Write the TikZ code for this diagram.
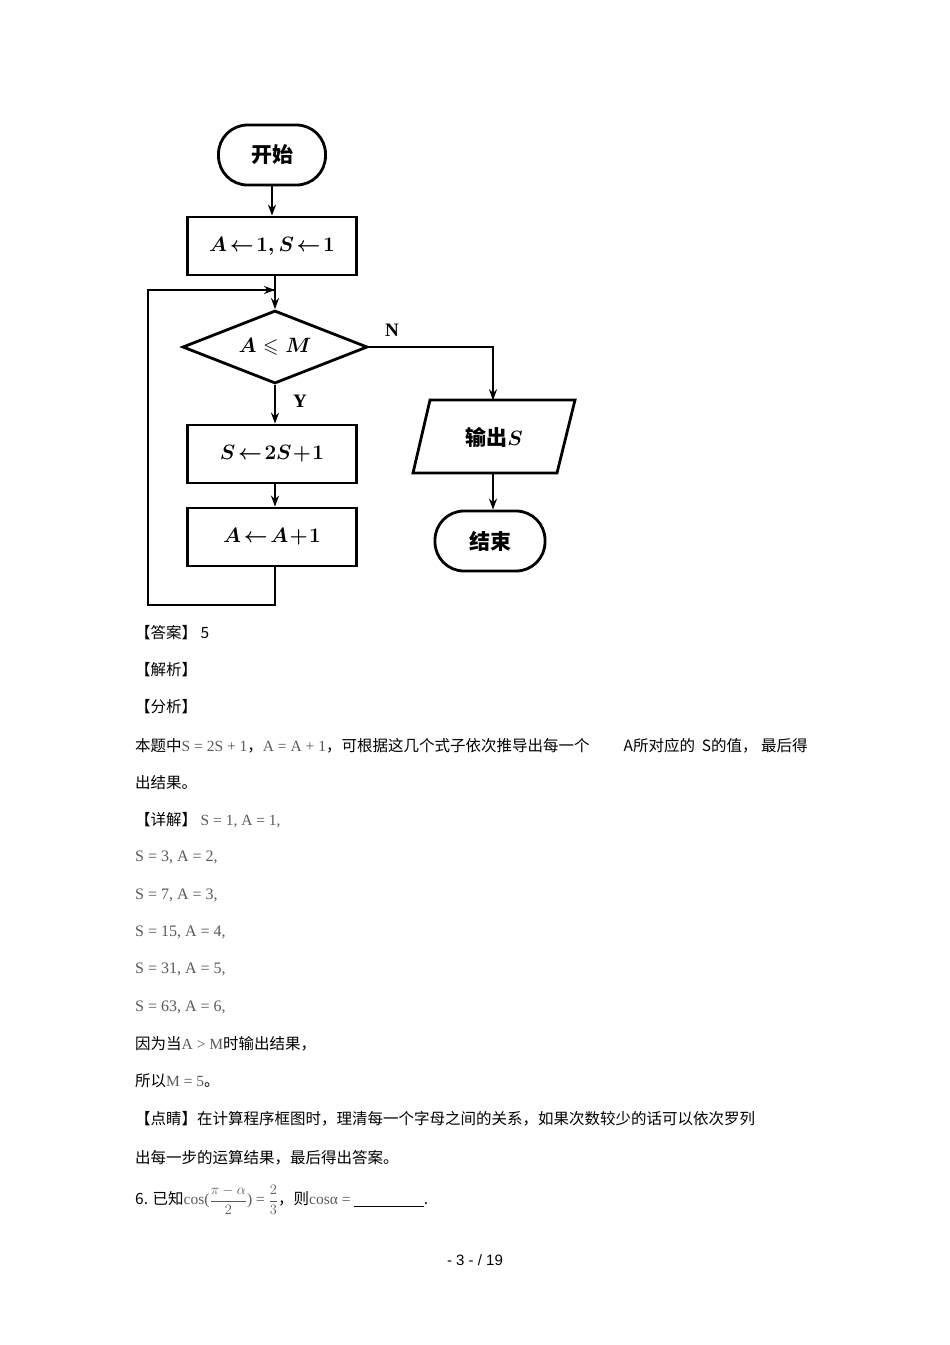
\documentclass[tikz,border=0pt]{standalone}
\usepackage{amsmath,amssymb}
\usepackage{fontspec}
\setmainfont{Liberation Sans}
\newfontfamily\cjk{Noto Sans CJK SC}
\newfontfamily\srf{Liberation Serif}
\usetikzlibrary{arrows.meta,shapes.geometric}
\begin{document}
\begin{tikzpicture}[x=1pt,y=-1pt,
  lw/.style={line width=2.8pt},
  fbox/.style={draw,lw,minimum width=169pt,minimum height=58pt,font=\fontsize{20pt}{22pt}\selectfont\bfseries},
  term/.style={draw,lw,rounded corners=29pt,minimum height=60pt,font=\fontsize{21pt}{22pt}\selectfont\cjk\bfseries},
  arr/.style={lw,-{Stealth[length=11pt,width=8pt]}},
  txt/.style={anchor=west,inner sep=0pt,font=\fontsize{15.5pt}{17pt}\selectfont\cjk},
  gm/.style={text=black!65,font=\fontsize{16pt}{17pt}\selectfont\srf}]
\useasboundingbox (0,0) rectangle (950,1345);
\node[term,minimum width=107pt] (start) at (272,155) {开始};
\node[fbox] (init) at (272,246) {$\boldsymbol{A\!\leftarrow\!1,S\!\leftarrow\!1}$};
\node[draw,lw,diamond,aspect=2.5,minimum width=185pt,minimum height=73pt,inner sep=0pt,font=\fontsize{20pt}{22pt}\selectfont\bfseries] (cond) at (275,347) {$\boldsymbol{A\leqslant M}$};
\node[fbox] (s) at (272,454) {$\boldsymbol{S\!\leftarrow\!2S\!+\!1}$};
\node[fbox] (a) at (272,537) {$\boldsymbol{A\!\leftarrow\!A\!+\!1}$};
\node[minimum width=144pt,minimum height=73pt,inner sep=0pt,font=\fontsize{21pt}{22pt}\selectfont\cjk\bfseries] (out) at (494,437) {输出$\boldsymbol{S}$};
\draw[lw] (430,400) -- (575,400) -- (557,473) -- (413,473) -- cycle;
\node[term,minimum width=110pt] (end) at (490,541) {结束};
\coordinate (j) at (275,290);
\coordinate (b1) at (275,605);
\coordinate (b2) at (148,605);
\coordinate (b3) at (148,290);
\coordinate (r) at (493,347);
\draw[arr] (start.south) -- (start.south|-init.north);
\draw[arr] (init.south-|j) -- (cond.north);
\draw[arr] (cond.south) -- (cond.south|-s.north);
\draw[arr] (s.south-|cond.south) -- (cond.south|-a.north);
\draw[lw] (a.south-|b1) -- (b1) -- (b2) -- (b3) -- (j);
\draw[arr] (b3) -- (j);
\draw[arr] (cond.east) -- (r) -- (r|-out.north);
\draw[arr] (out.south-|r) -- (end.north-|r);
\node[font=\fontsize{19pt}{20pt}\selectfont\bfseries\srf] at (392,330) {N};
\node[font=\fontsize{19pt}{20pt}\selectfont\bfseries\srf] at (300,401) {Y};
\node[txt] (l1) at (135,633) {【答案】\ 5};
\node[txt] (l2) at (135,670) {【解析】};
\node[txt] (l3) at (135,707) {【分析】};
\node[txt] (l4) at (135,746) {本题中{\srf\color{black!65} S = 2S + 1}，{\srf\color{black!65} A = A + 1}，可根据这几个式子依次推导出每一个\hspace{2.2em}A所对应的\ \ S的值，\ 最后得};
\node[txt] (l5) at (135,783) {出结果。};
\node[txt] (l6) at (135,820) {【详解】 {\srf\color{black!65} S = 1, A = 1,}};
\node[txt,gm] (l7) at (135,857) {S = 3, A = 2,};
\node[txt,gm] (l8) at (135,895) {S = 7, A = 3,};
\node[txt,gm] (l9) at (135,932) {S = 15, A = 4,};
\node[txt,gm] (l10) at (135,969) {S = 31, A = 5,};
\node[txt,gm] (l11) at (135,1007) {S = 63, A = 6,};
\node[txt] (l12) at (135,1044) {因为当{\srf\color{black!65} A > M}时输出结果，};
\node[txt] (l13) at (135,1081) {所以{\srf\color{black!65} M = 5}。};
\node[txt] (l14) at (135,1119) {【点睛】在计算程序框图时，理清每一个字母之间的关系，如果次数较少的话可以依次罗列};
\node[txt] (l15) at (135,1158) {出每一步的运算结果，最后得出答案。};
\node[txt] (l16) at (135,1200) {6. 已知{\srf\color{black!65} cos($\dfrac{\pi-\alpha}{2}$) = $\dfrac{2}{3}$}，则{\srf\color{black!65} cosα =}\ \underline{\hspace{4.5em}}.};
\node[font=\fontsize{15pt}{17pt}\selectfont] (pg) at (475,1260) {- 3 - / 19};
\end{tikzpicture}
\end{document}
